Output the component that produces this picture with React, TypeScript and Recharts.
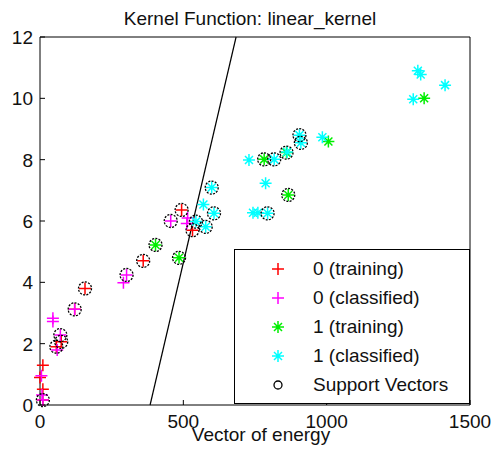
import {
  Legend,
  ReferenceLine,
  Scatter,
  ScatterChart,
  XAxis,
  YAxis,
} from "recharts"

type Pt = { x: number; y: number }

const xTicks = [0, 500, 1000, 1500]
const yTicks = [0, 2, 4, 6, 8, 10, 12]

const class0Training: Pt[] = [
  { x: 0, y: 0.9 }, { x: 10, y: 1.3 }, { x: 10, y: 0.51 }, { x: 10, y: 0.16 },
  { x: 57, y: 1.9 }, { x: 74, y: 2.06 }, { x: 121, y: 3.12 }, { x: 157, y: 3.8 },
  { x: 360, y: 4.7 }, { x: 494, y: 6.36 }, { x: 532, y: 5.7 },
]

const class0Classified: Pt[] = [
  { x: 5, y: 0.95 }, { x: 7, y: 0.33 }, { x: 10, y: 0.16 }, { x: 45, y: 2.83 },
  { x: 45, y: 2.72 }, { x: 60, y: 1.79 }, { x: 71, y: 2.28 }, { x: 121, y: 3.12 },
  { x: 291, y: 3.99 }, { x: 302, y: 4.24 }, { x: 456, y: 6.0 }, { x: 515, y: 6.1 },
  { x: 512, y: 5.92 },
]

const class1Training: Pt[] = [
  { x: 403, y: 5.22 }, { x: 485, y: 4.8 }, { x: 782, y: 8.01 }, { x: 860, y: 8.23 },
  { x: 866, y: 6.85 }, { x: 1006, y: 8.59 }, { x: 1340, y: 10.0 },
]

const class1Classified: Pt[] = [
  { x: 544, y: 5.98 }, { x: 578, y: 5.81 }, { x: 570, y: 6.54 }, { x: 607, y: 6.25 },
  { x: 599, y: 7.09 }, { x: 729, y: 7.99 }, { x: 743, y: 6.27 }, { x: 760, y: 6.27 },
  { x: 794, y: 6.25 }, { x: 787, y: 7.23 }, { x: 817, y: 8.01 }, { x: 862, y: 8.25 },
  { x: 905, y: 8.8 }, { x: 910, y: 8.55 }, { x: 985, y: 8.73 }, { x: 1302, y: 9.97 },
  { x: 1318, y: 10.9 }, { x: 1328, y: 10.78 }, { x: 1413, y: 10.43 },
]

const supportVectors: Pt[] = [
  { x: 10, y: 0.16 }, { x: 57, y: 1.9 }, { x: 74, y: 2.06 }, { x: 71, y: 2.28 },
  { x: 121, y: 3.12 }, { x: 157, y: 3.8 }, { x: 302, y: 4.24 }, { x: 360, y: 4.7 },
  { x: 403, y: 5.22 }, { x: 456, y: 6.0 }, { x: 485, y: 4.8 }, { x: 494, y: 6.36 },
  { x: 532, y: 5.7 }, { x: 544, y: 5.98 }, { x: 578, y: 5.81 }, { x: 599, y: 7.09 },
  { x: 607, y: 6.25 }, { x: 782, y: 8.01 }, { x: 817, y: 8.01 }, { x: 794, y: 6.25 },
  { x: 860, y: 8.23 }, { x: 866, y: 6.85 }, { x: 905, y: 8.8 }, { x: 910, y: 8.55 },
]

// separating line of the linear kernel
const boundary: Pt[] = [
  { x: 384, y: 0 },
  { x: 684, y: 12 },
]

const seriesNames = ["0 (training)", "0 (classified)", "1 (training)", "1 (classified)", "Support Vectors"]
const seriesColors = ["#ff0000", "#ff00ff", "#00ee00", "#00ffff", "#000000"]
const seriesMarkers = ["plus", "plus", "star", "star", "ring"]

const FONT = '"Liberation Sans", Arial, sans-serif'

function Marker({ kind, color, cx, cy, small }: { kind: string; color: string; cx: number; cy: number; small?: boolean }) {
  if (kind === "plus") {
    const a = 6
    return (
      <path
        d={`M${cx - a},${cy}H${cx + a}M${cx},${cy - a}V${cy + a}`}
        stroke={color}
        strokeWidth={1.5}
        fill="none"
      />
    )
  }
  if (kind === "star") {
    const a = 6
    const d = 4
    return (
      <path
        d={`M${cx - a},${cy}H${cx + a}M${cx},${cy - a}V${cy + a}M${cx - d},${cy - d}L${cx + d},${cy + d}M${cx - d},${cy + d}L${cx + d},${cy - d}`}
        stroke={color}
        strokeWidth={1.5}
        fill="none"
      />
    )
  }
  return (
    <circle
      cx={cx}
      cy={cy}
      r={small ? 4 : 6.5}
      stroke={color}
      strokeWidth={1.3}
      strokeDasharray={small ? undefined : "2 1.3"}
      fill="none"
    />
  )
}

function shapeFor(i: number) {
  return (props: any) => (
    <Marker kind={seriesMarkers[i]} color={seriesColors[i]} cx={props.cx} cy={props.cy} />
  )
}

function BottomTick({ x, y, payload }: any) {
  return (
    <g>
      <line x1={x} y1={y} x2={x} y2={y - 5} stroke="#000" />
      <text x={x} y={y + 23} textAnchor="middle" fontSize={19} fontFamily={FONT} fill="#111">
        {payload.value}
      </text>
    </g>
  )
}

function LeftTick({ x, y, payload }: any) {
  return (
    <g>
      <line x1={x} y1={y} x2={x + 5} y2={y} stroke="#000" />
      <text x={x - 7} y={y + 7} textAnchor="end" fontSize={19} fontFamily={FONT} fill="#111">
        {payload.value}
      </text>
    </g>
  )
}

function TopTick({ x, y }: any) {
  return <line x1={x} y1={y} x2={x} y2={y + 5} stroke="#000" />
}

function RightTick({ x, y }: any) {
  return <line x1={x} y1={y} x2={x - 5} y2={y} stroke="#000" />
}

function LegendBox() {
  return (
    <div
      style={{
        position: "relative",
        width: 236,
        height: 155,
        boxSizing: "border-box",
        border: "1px solid #000",
        background: "#fff",
        fontFamily: FONT,
        fontSize: 19,
        color: "#111",
      }}
    >
      {seriesNames.map((name, i) => {
        const cy = 19 + i * 29
        return (
          <div key={name} style={{ position: "absolute", left: 0, top: cy - 11, height: 22, width: 234 }}>
            <svg width={30} height={22} style={{ position: "absolute", left: 28, top: 0 }}>
              <Marker kind={seriesMarkers[i]} color={seriesColors[i]} cx={15} cy={11} small />
            </svg>
            <span style={{ position: "absolute", left: 78, top: 0, lineHeight: "22px", whiteSpace: "nowrap" }}>
              {name}
            </span>
          </div>
        )
      })}
    </div>
  )
}

const seriesData = [class0Training, class0Classified, class1Training, class1Classified, supportVectors]

export default function App() {
  return (
    <div
      style={{
        position: "absolute",
        left: 0,
        top: 0,
        width: 500,
        height: 451,
        background: "#fff",
        fontFamily: FONT,
      }}
    >
      <ScatterChart width={500} height={451} margin={{ top: 36, right: 29, bottom: 0, left: 0 }}>
        <XAxis
          xAxisId="x"
          dataKey="x"
          type="number"
          domain={[0, 1500]}
          ticks={xTicks}
          height={46}
          tickSize={0}
          tickMargin={0}
          axisLine={{ stroke: "#000" }}
          tick={(p: any) => <BottomTick {...p} />}
          interval={0}
        />
        <XAxis
          xAxisId="top"
          orientation="top"
          type="number"
          domain={[0, 1500]}
          ticks={xTicks}
          height={1}
          tickSize={0}
          tickMargin={0}
          axisLine={{ stroke: "#000" }}
          tick={(p: any) => <TopTick {...p} />}
          interval={0}
        />
        <YAxis
          yAxisId="y"
          dataKey="y"
          type="number"
          domain={[0, 12]}
          ticks={yTicks}
          width={40}
          tickSize={0}
          tickMargin={0}
          axisLine={{ stroke: "#000" }}
          tick={(p: any) => <LeftTick {...p} />}
          interval={0}
        />
        <YAxis
          yAxisId="right"
          orientation="right"
          type="number"
          domain={[0, 12]}
          ticks={yTicks}
          width={1}
          tickSize={0}
          tickMargin={0}
          axisLine={{ stroke: "#000" }}
          tick={(p: any) => <RightTick {...p} />}
          interval={0}
        />
        <ReferenceLine
          xAxisId="x"
          yAxisId="y"
          segment={boundary}
          stroke="#000"
          strokeWidth={1.2}
          ifOverflow="visible"
        />
        {seriesData.map((data, i) => (
          <Scatter
            key={seriesNames[i]}
            name={seriesNames[i]}
            xAxisId="x"
            yAxisId="y"
            data={data}
            shape={shapeFor(i)}
            isAnimationActive={false}
          />
        ))}
        <Legend
          layout="vertical"
          align="center"
          verticalAlign="middle"
          wrapperStyle={{ left: 234, top: 249, width: 236, height: 155 }}
          content={() => <LegendBox />}
        />
      </ScatterChart>
      <div
        style={{
          position: "absolute",
          left: 0,
          width: 500,
          top: 9,
          textAlign: "center",
          fontSize: 19,
          lineHeight: "19px",
          color: "#111",
        }}
      >
        Kernel Function: linear_kernel
      </div>
      <div
        style={{
          position: "absolute",
          left: 161,
          width: 200,
          top: 425,
          textAlign: "center",
          fontSize: 19,
          lineHeight: "19px",
          color: "#111",
        }}
      >
        Vector of energy
      </div>
    </div>
  )
}
